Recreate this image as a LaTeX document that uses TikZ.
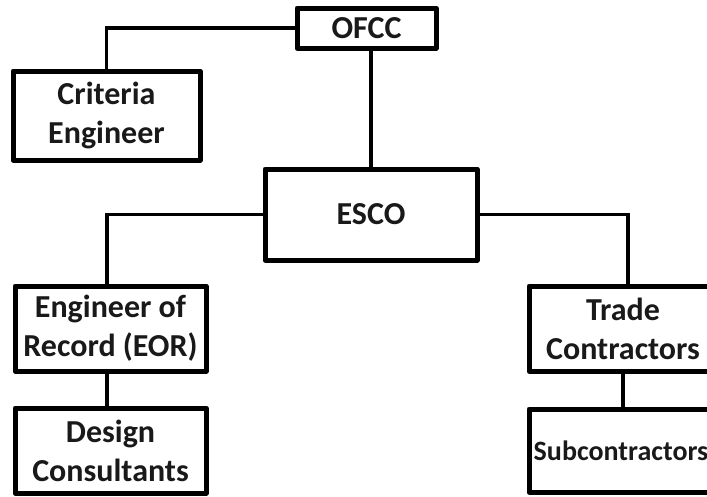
\documentclass[tikz,border=0pt]{standalone}
\usepackage{fontspec}
\setmainfont{Carlito}
\begin{document}
\begin{tikzpicture}[x=1pt,y=-1pt,
  box/.style={draw=black,line width=5pt,line join=round,fill=white,inner sep=0pt,
    align=center,font=\fontsize{32}{39}\selectfont\bfseries,text=black!90},
  conn/.style={draw=black,line width=3.5pt}]
\useasboundingbox (0,0) rectangle (707,496);
\clip (0,0) rectangle (707,496);
\node[box,minimum width=139pt,minimum height=40pt] (ofcc) at (366.5,28) {OFCC};
\node[box,minimum width=187pt,minimum height=89pt] (crit) at (106.5,115.5) {Criteria\\Engineer};
\node[box,minimum width=212pt,minimum height=91pt] (esco) at (371,214.5) {ESCO};
\node[box,minimum width=191pt,minimum height=85pt] (eor) at (110.5,328.5) {Engineer of\\Record (EOR)};
\node[box,minimum width=191pt,minimum height=85pt] (dc) at (110.5,450.5) {Design\\Consultants};
\node[box,minimum width=188pt,minimum height=85pt] (trade) at (623,328.5) {Trade\\Contractors};
\node[box,minimum width=184pt,minimum height=83pt,font=\fontsize{28}{34}\selectfont\bfseries] (sub) at (621,450.5) {Subcontractors};
\draw[conn] (ofcc.west) -| (crit.north);
\draw[conn] (ofcc.south -| esco.north) -- (esco.north);
\draw[conn] (esco.west) -| ([xshift=-3.5pt]eor.north);
\draw[conn] (esco.east) -| ([xshift=5pt]trade.north);
\draw[conn] ([xshift=-3.5pt]eor.south) -- ([xshift=-3.5pt]dc.north);
\draw[conn] (trade.south) -- (trade.south |- sub.north);
\end{tikzpicture}
\end{document}
